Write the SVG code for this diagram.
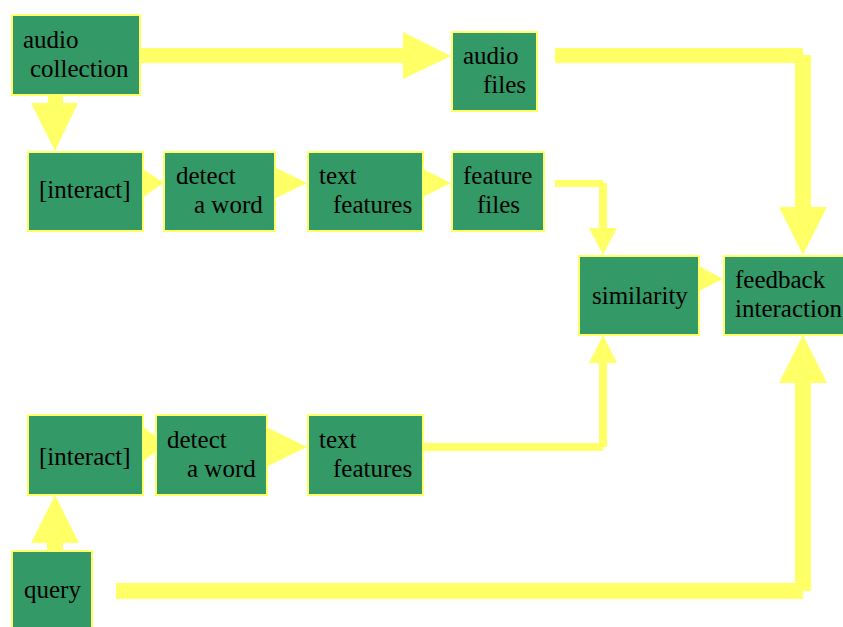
<svg xmlns="http://www.w3.org/2000/svg" width="843" height="627" viewBox="0 0 843 627">
<style>
.box{fill:#339966;stroke:#FFFF66;stroke-width:2}
.c{fill:#FFFF66;stroke:none}
</style>
<rect width="843" height="627" fill="#fff"/>
<g id="connectors">
  <rect class="c" x="140" y="48" width="265" height="15"/>
  <polygon class="c" points="403,32 451,56 403,79"/>
  <rect class="c" x="555" y="48" width="248" height="15"/>
  <rect class="c" x="795" y="55" width="16" height="153"/>
  <polygon class="c" points="779,207 827,207 803,255"/>
  <rect class="c" x="48" y="95" width="15" height="9"/>
  <polygon class="c" points="31,103 78,103 55,151"/>
  <polygon class="c" points="140,167 164,183 140,199"/>
  <polygon class="c" points="272,166 307,183 272,200"/>
  <rect class="c" x="411" y="179" width="16" height="8"/>
  <polygon class="c" points="423,169 451,183 423,197"/>
  <rect class="c" x="555" y="180" width="48" height="7"/>
  <rect class="c" x="599" y="183" width="8" height="46"/>
  <polygon class="c" points="589,228 617,228 603,255"/>
  <polygon class="c" points="699,266 723,279 699,291"/>
  <polygon class="c" points="143,427 167,444 143,461"/>
  <polygon class="c" points="266,427 307,447 266,467"/>
  <rect class="c" x="411" y="443" width="192" height="8"/>
  <rect class="c" x="599" y="362" width="8" height="85"/>
  <polygon class="c" points="589,363 617,363 603,335"/>
  <rect class="c" x="116" y="583" width="687" height="16"/>
  <rect class="c" x="795" y="382" width="16" height="209"/>
  <polygon class="c" points="779,383 827,383 803,335"/>
  <rect class="c" x="47" y="541" width="16" height="10"/>
  <polygon class="c" points="31,543 79,543 55,495"/>
</g>
<g font-family="Liberation Serif, Times New Roman, serif" font-size="25" fill="#000">
<g id="audio-collection">
  <rect class="box" x="12" y="15" width="128" height="80"/>
  <text x="23" y="48">audio</text>
  <text x="30" y="77">collection</text>
</g>
<g id="audio-files">
  <rect class="box" x="452" y="32" width="85" height="79"/>
  <text x="463" y="64">audio</text>
  <text x="483" y="93">files</text>
</g>
<g id="interact-top">
  <rect class="box" x="28" y="152" width="115" height="79"/>
  <text x="39" y="198">[interact]</text>
</g>
<g id="detect-top">
  <rect class="box" x="164" y="152" width="111" height="79"/>
  <text x="176" y="184">detect</text>
  <text x="194" y="213">a word</text>
</g>
<g id="text-features-top">
  <rect class="box" x="308" y="152" width="115" height="79"/>
  <text x="319" y="184">text</text>
  <text x="333" y="213">features</text>
</g>
<g id="feature-files">
  <rect class="box" x="452" y="152" width="92" height="79"/>
  <text x="463" y="184">feature</text>
  <text x="477" y="213">files</text>
</g>
<g id="similarity">
  <rect class="box" x="579" y="256" width="120" height="79"/>
  <text x="592" y="304">similarity</text>
</g>
<g id="feedback-interaction">
  <rect class="box" x="724" y="256" width="130" height="79"/>
  <text x="735" y="288">feedback</text>
  <text x="735" y="317">interaction</text>
</g>
<g id="interact-bottom">
  <rect class="box" x="28" y="415" width="115" height="80"/>
  <text x="39" y="465">[interact]</text>
</g>
<g id="detect-bottom">
  <rect class="box" x="156" y="415" width="111" height="80"/>
  <text x="167" y="448">detect</text>
  <text x="187" y="477">a word</text>
</g>
<g id="text-features-bottom">
  <rect class="box" x="308" y="415" width="115" height="80"/>
  <text x="319" y="448">text</text>
  <text x="333" y="477">features</text>
</g>
<g id="query">
  <rect class="box" x="12" y="551" width="80" height="90"/>
  <text x="24" y="598">query</text>
</g>
</g>
</svg>
